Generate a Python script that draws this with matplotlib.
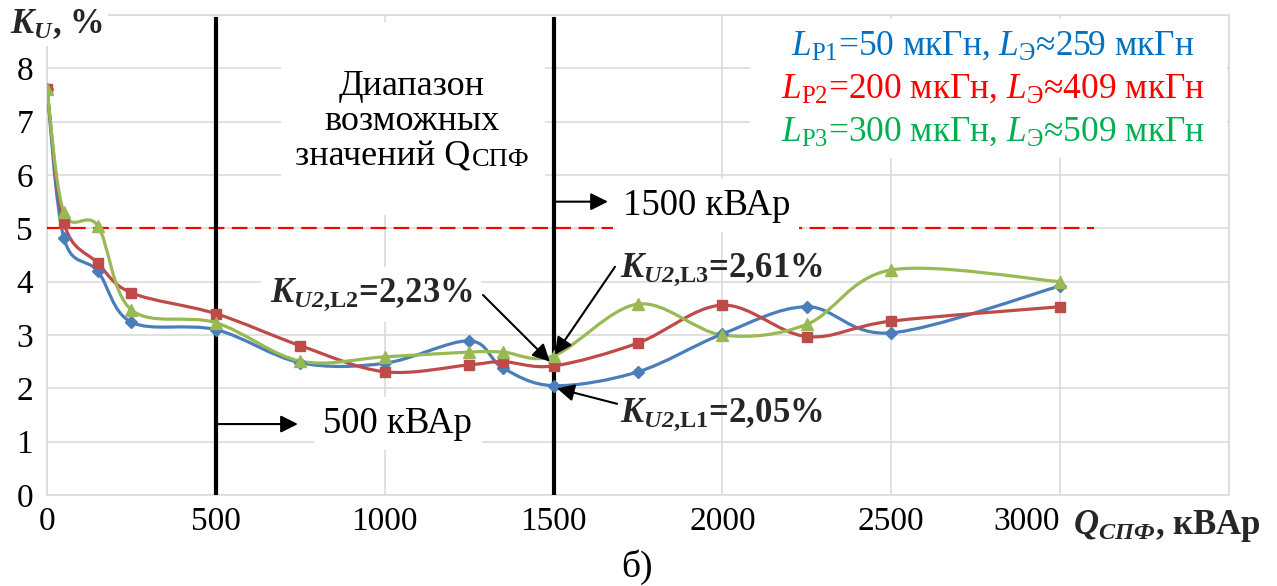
import numpy as np
import matplotlib
matplotlib.use("Agg")
import matplotlib.pyplot as plt
from matplotlib.path import Path
from matplotlib.patches import PathPatch, Rectangle

plt.rcParams['font.family'] = ['Liberation Serif', 'DejaVu Serif']
plt.rcParams['mathtext.fontset'] = 'custom'
plt.rcParams['mathtext.rm'] = 'Liberation Serif'
plt.rcParams['mathtext.it'] = 'Liberation Serif:italic'
plt.rcParams['mathtext.bf'] = 'Liberation Serif:bold'
plt.rcParams['mathtext.bfit'] = 'Liberation Serif:italic:bold'

# ---------------- data ----------------
q_values = [0, 50, 150, 250, 500, 750, 1000, 1250, 1350, 1500, 1750, 2000, 2250, 2500, 3000]
ku_L1 = [7.62, 4.82, 4.2, 3.24, 3.1, 2.48, 2.47, 2.89, 2.38, 2.05, 2.31, 3.02, 3.53, 3.04, 3.92]
ku_L2 = [7.62, 5.1, 4.35, 3.79, 3.4, 2.8, 2.31, 2.44, 2.5, 2.42, 2.85, 3.56, 2.97, 3.26, 3.53]
ku_L3 = [7.62, 5.3, 5.05, 3.47, 3.23, 2.51, 2.59, 2.68, 2.68, 2.61, 3.58, 3.0, 3.2, 4.22, 4.0]
limit_value = 5
limit_range = [0, 3100]
q_bounds = [500, 1500]

x_ticks = [0, 500, 1000, 1500, 2000, 2500, 3000, 3500]
x_ticklabels = ['0', '500', '1000', '1500', '2000', '2500', '3000', '']
y_ticks = [0, 1, 2, 3, 4, 5, 6, 7, 8, 9]
y_ticklabels = ['0', '1', '2', '3', '4', '5', '6', '7', '8', '']

legend_lines = [
    r"$L_{\mathrm{Р1}}$=50 мкГн, $L_{\mathrm{Э}}$≈259 мкГн",
    r"$L_{\mathrm{Р2}}$=200 мкГн, $L_{\mathrm{Э}}$≈409 мкГн",
    r"$L_{\mathrm{Р3}}$=300 мкГн, $L_{\mathrm{Э}}$≈509 мкГн",
]
legend_colors = ['#0070C0', '#FF0000', '#00B050']

line_colors = ['#4A7EBB', '#BE4B48', '#98B954']


def smooth_path(xs, ys):
    pts = np.column_stack([xs, ys]).astype(float)
    n = len(pts)
    verts = [pts[0]]
    codes = [Path.MOVETO]
    for i in range(n - 1):
        p0 = pts[i - 1] if i > 0 else pts[i]
        p1 = pts[i]
        p2 = pts[i + 1]
        p3 = pts[i + 2] if i + 2 < n else pts[i + 1]
        c1 = p1 + (p2 - p0) / 6.0
        c2 = p2 - (p3 - p1) / 6.0
        verts += [c1, c2, p2]
        codes += [Path.CURVE4] * 3
    return Path(verts, codes)


fig = plt.figure(figsize=(12.77, 5.86), dpi=100)
ax = fig.add_axes([47 / 1277, 1 - 495 / 586, (1229 - 47) / 1277, (495 - 15) / 586])
ax.set_xlim(0, 3500)
ax.set_ylim(0, 9)
ax.set_xticks(x_ticks)
ax.set_xticklabels(x_ticklabels)
ax.set_yticks(y_ticks)
ax.set_yticklabels(y_ticklabels)
ax.tick_params(length=0, labelsize=24)
ax.tick_params(axis='x', pad=8)
ax.tick_params(axis='y', pad=10)
ax.get_xticklabels()[6].set_horizontalalignment('right')
ax.grid(True, color='#d9d9d9', lw=1.1)
ax.set_axisbelow(True)
for s in ax.spines.values():
    s.set_color('#d9d9d9')
    s.set_linewidth(1.1)

# white areas behind text blocks
ax.add_patch(Rectangle((693, 5.25), 782, 3.62, facecolor='white', edgecolor='none', zorder=2.6))
ax.add_patch(Rectangle((2082, 6.32), 1412, 2.6, facecolor='white', edgecolor='none', zorder=2.6))

# limit line
ax.plot(limit_range, [limit_value, limit_value], color='#FF0000', lw=1.6,
        dashes=(7, 3.4), zorder=3)

# bounds
ax.vlines(q_bounds, 0, 8.96, color='black', lw=3, zorder=3.5)

markers = ['D', 's', '^']
msizes = [6, 7.5, 8.5]
for ys, c, m, ms in zip([ku_L1, ku_L2, ku_L3], line_colors, markers, msizes):
    ax.add_patch(PathPatch(smooth_path(q_values, ys), facecolor='none', edgecolor=c,
                           lw=2.3, zorder=4))
    ax.plot(q_values, ys, linestyle='none', marker=m, ms=ms, color=c, zorder=5)

# Range text
ax.text(1081, 7.50, "Диапазон", ha='center', va='baseline', fontsize=26, zorder=6)
ax.text(1081, 6.85, "возможных", ha='center', va='baseline', fontsize=26, zorder=6)
ax.text(1255, 6.17, "значений Q", ha='right', va='baseline', fontsize=26, zorder=6)
ax.text(1257, 6.17, "СПФ", ha='left', va='baseline', fontsize=19, zorder=6)

# legend text
for i, (txt, col) in enumerate(zip(legend_lines, legend_colors)):
    ax.text(2801, [8.26, 7.45, 6.64][i], txt, color=col, ha='center', va='baseline',
            fontsize=25.5, zorder=6)

wbox = dict(boxstyle='square,pad=0.25', facecolor='white', edgecolor='none')
arrow_kw = dict(arrowstyle='-|>', color='black', lw=1.5, mutation_scale=26,
                shrinkA=0, shrinkB=0)

# 500 / 1500 markers
ax.annotate("", xy=(743, 1.33), xytext=(500, 1.33), arrowprops=arrow_kw, zorder=6)
ax.text(1039, 1.16, "500 кВАр", ha='center', va='baseline', fontsize=26.5, bbox=wbox, zorder=6)
ax.annotate("", xy=(1661, 5.5), xytext=(1500, 5.5), arrowprops=arrow_kw, zorder=6)
ax.text(1952, 5.25, "1500 кВАр", ha='center', va='baseline', fontsize=26.5, bbox=wbox, zorder=6)

# value annotations
ax.text(960, 3.62, r"$\mathbfit{K}_{\mathbfit{U2}\mathbf{{,}L2}}$=2,23%", ha='center',
        va='baseline', fontsize=25, fontweight='bold', color='#262626', bbox=wbox, zorder=6)
ax.annotate("", xy=(1489, 2.5), xytext=(1291, 3.75), arrowprops=arrow_kw, zorder=6)
ax.text(1998, 4.09, r"$\mathbfit{K}_{\mathbfit{U2}\mathbf{{,}L3}}$=2,61%", ha='center',
        va='baseline', fontsize=25, fontweight='bold', color='#262626', zorder=6)
ax.annotate("", xy=(1504, 2.63), xytext=(1682, 4.28), arrowprops=arrow_kw, zorder=6)
ax.text(1998, 1.37, r"$\mathbfit{K}_{\mathbfit{U2}\mathbf{{,}L1}}$=2,05%", ha='center',
        va='baseline', fontsize=25, fontweight='bold', color='#262626', zorder=6)
ax.annotate("", xy=(1510, 2.0), xytext=(1688, 1.71), arrowprops=arrow_kw, zorder=6)

# axis titles
fig.text(10 / 1277, 1 - 33 / 586, r"$\mathbfit{K}_{\mathbfit{U}}$, %", ha='left', va='baseline',
         fontsize=25, fontweight='bold', color='#262626',
         bbox=dict(boxstyle='square,pad=0.15', facecolor='white', edgecolor='none'))
fig.text(1073 / 1277, 1 - 534 / 586, r"$\mathbfit{Q}_{\mathbfit{СПФ}}$, кВАр", ha='left',
         va='baseline', fontsize=25, fontweight='bold', color='#262626')
fig.text(637 / 1277, 1 - 577 / 586, "б)", ha='center', va='baseline', fontsize=27)

fig.savefig("out.png", dpi=100)
